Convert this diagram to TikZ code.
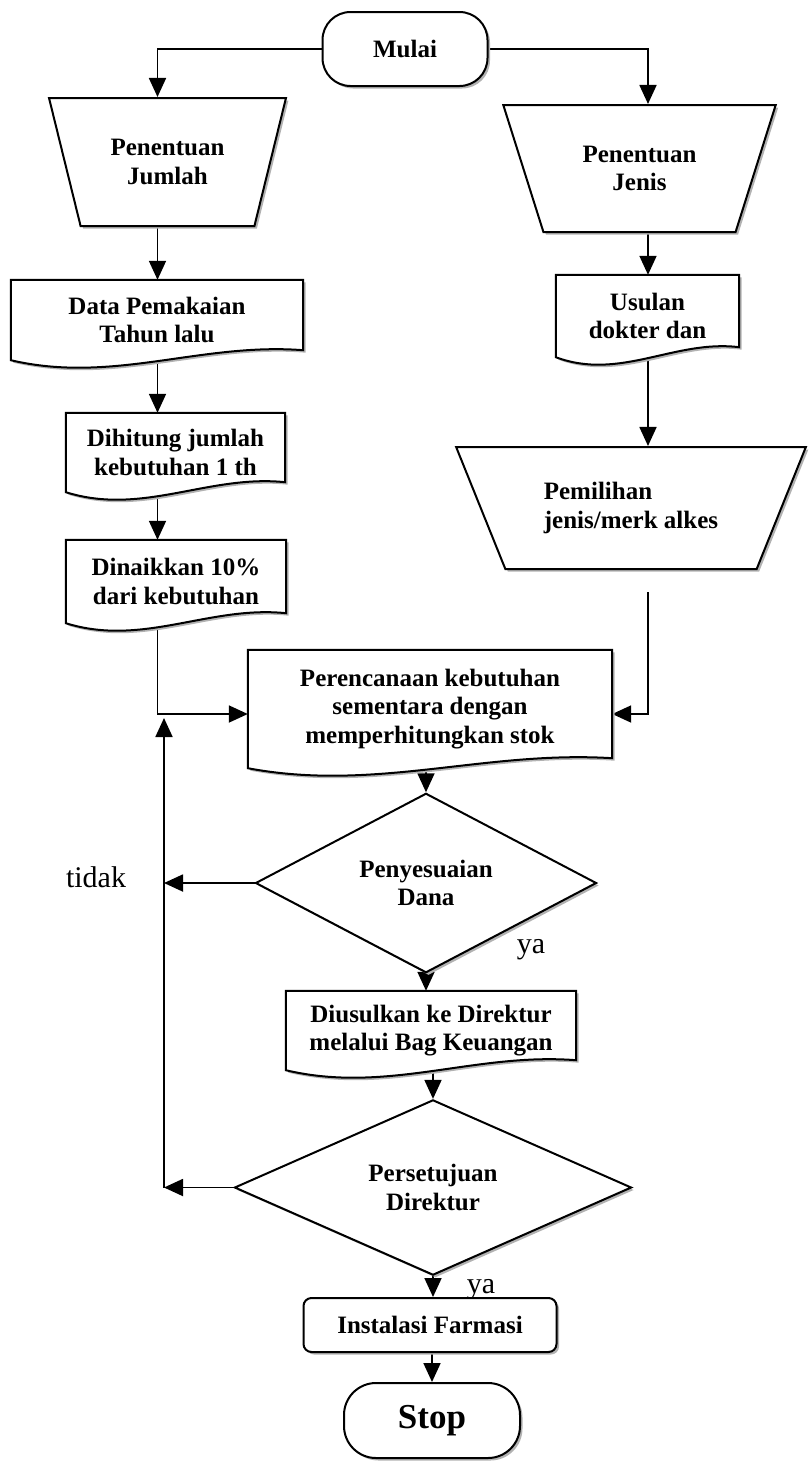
\documentclass[tikz,border=0pt]{standalone}
\usepackage{fontspec}
\setmainfont{Liberation Serif}
\usetikzlibrary{shapes.geometric,arrows.meta,calc,backgrounds,shadows}
\newcommand{\flowfont}{\fontsize{25}{28.5}\selectfont\bfseries}
\tikzset{
  shd/.style   ={drop shadow={shadow xshift=2.5pt, shadow yshift=-2.5pt,
                 fill=gray!60, opacity=1}},
  term/.style  ={rectangle, draw, line width=2pt, fill=white, shd,
                 align=center, font=\flowfont},
  manop/.style ={trapezium, trapezium stretches=true, trapezium left angle=#1,
                 trapezium right angle=#1, draw, line width=2pt, fill=white,
                 shd, inner sep=0pt, align=center, font=\flowfont},
  docu/.style  ={rectangle, inner sep=0pt, align=center, font=\flowfont},
  dec/.style   ={diamond, draw, line width=2pt, fill=white, shd,
                 inner sep=0pt, align=center, font=\flowfont},
  lbl/.style   ={font=\fontsize{30}{34}\selectfont},
  ar/.style    ={-{Triangle[length=19pt,width=17pt]}, line width=1.8pt}
}
% document shape: shadow, then white body with wavy bottom
\newcommand{\docshape}[1]{%
  \fill[gray!60, transform canvas={xshift=2.5pt,yshift=-2.5pt}]
    (#1.north west) -- (#1.north east) -- ([yshift=10pt]#1.south east)
    .. controls ($(#1.south west)!0.65!(#1.south east)+(0,18pt)$)
    and ($(#1.south west)!0.35!(#1.south east)+(0,-24pt)$) .. (#1.south west)
    -- cycle;
  \filldraw[fill=white, line width=2pt]
    (#1.north west) -- (#1.north east) -- ([yshift=10pt]#1.south east)
    .. controls ($(#1.south west)!0.65!(#1.south east)+(0,18pt)$)
    and ($(#1.south west)!0.35!(#1.south east)+(0,-24pt)$) .. (#1.south west)
    -- cycle;}

\begin{document}
\begin{tikzpicture}[x=1pt, y=-1pt]
\useasboundingbox (0,0) rectangle (811,1462);
\coordinate (colL) at (157.5,0);
\coordinate (colR) at (648,0);
\coordinate (colB) at (164,0);

\node[term, rounded corners=28pt, minimum width=165pt, minimum height=74pt]
  (mulai) at (405,49) {Mulai};
\node[manop=114.6, minimum width=237pt, minimum height=128pt]
  (jumlah) at (167.5,162) {Penentuan\\Jumlah};
\node[manop=117.8, minimum width=273pt, minimum height=127pt]
  (jenis) at (639.5,168.5) {Penentuan\\Jenis};
\node[docu, minimum width=292pt, minimum height=80pt]
  (data) at (157,320) {Data Pemakaian\\Tahun lalu};
\node[docu, minimum width=183pt, minimum height=82pt]
  (usulan) at (647.5,316) {Usulan\\dokter dan};
\node[docu, minimum width=219pt, minimum height=79pt]
  (dihitung) at (175.5,452.5) {Dihitung jumlah\\kebutuhan 1 th};
\node[manop=123.7, minimum width=350pt, minimum height=122pt, align=left]
  (pemilihan) at (631,508) {Pemilihan\\jenis/merk alkes};
\node[docu, minimum width=220pt, minimum height=83pt]
  (dinaikkan) at (176,581.5) {Dinaikkan 10\%\\dari kebutuhan};
\node[docu, minimum width=364pt, minimum height=118pt]
  (perencanaan) at (430,709)
  {Perencanaan kebutuhan\\sementara dengan\\memperhitungkan stok};
\node[dec, minimum width=341pt, minimum height=145pt]
  (dana) at (426,883) {Penyesuaian\\Dana};
\node[docu, minimum width=290pt, minimum height=79pt]
  (diusulkan) at (431,1030.5) {Diusulkan ke Direktur\\melalui Bag Keuangan};
\node[dec, minimum width=397pt, minimum height=145pt]
  (setuju) at (433,1187.5) {Persetujuan\\Direktur};
\node[lbl] (tidak) at (96,877) {tidak};
\node[lbl] (ya1) at (531,950) {ya};
\node[lbl] (ya2) at (481,1290) {ya};
\node[term, rounded corners=8pt, minimum width=253pt, minimum height=54pt]
  (instalasi) at (430,1325) {Instalasi Farmasi};
\node[term, rounded corners=32pt, minimum width=176pt, minimum height=75pt,
  font=\fontsize{35}{40}\selectfont\bfseries]
  (stop) at (432,1420.5) {Stop};

\begin{scope}[on background layer]
\draw[ar] (mulai.west) -| (colL |- jumlah.north);
\draw[ar] (mulai.east) -| (colR |- jenis.north);
\draw[ar] (colL |- jumlah.south) -- (colL |- data.north);
\draw[ar] (colL |- data.south) -- (colL |- dihitung.north);
\draw[ar] (colL |- dihitung.south) -- (colL |- dinaikkan.north);
\draw[ar] (colL |- dinaikkan.south) |- ([yshift=-5pt]perencanaan.west);
\draw[ar] (colR |- jenis.south) -- (colR |- usulan.north);
\draw[ar] (colR |- usulan.south) -- (colR |- pemilihan.north);
\draw[ar] ($(colR |- pemilihan.south)+(0,22)$) |- ([yshift=-5pt]perencanaan.east);
\draw[ar] (dana.north |- perencanaan.south) -- (dana.north);
\draw[ar] (dana.south) -- (dana.south |- diusulkan.north);
\draw[ar] (setuju.north |- diusulkan.south) -- (setuju.north);
\draw[ar] (setuju.south) -- (setuju.south |- instalasi.north);
\draw[ar] (stop.north |- instalasi.south) -- (stop.north);
\draw[ar] (dana.west) -- (colB |- dana.west);
\draw[ar] (setuju.west) -- (colB |- setuju.west);
\draw[ar] (colB |- setuju.west) -- ($(colB |- perencanaan.west)+(0,9)$);
\docshape{data}
\docshape{usulan}
\docshape{dihitung}
\docshape{dinaikkan}
\docshape{perencanaan}
\docshape{diusulkan}
\end{scope}
\end{tikzpicture}
\end{document}
